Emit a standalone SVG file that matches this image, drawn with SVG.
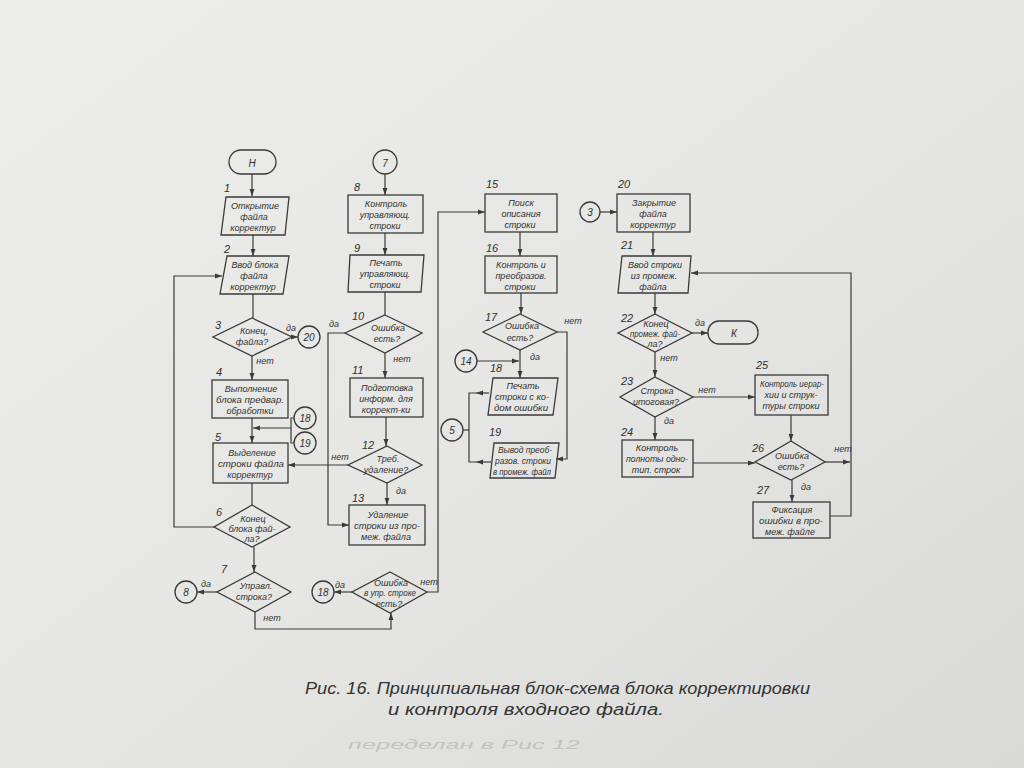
<svg xmlns="http://www.w3.org/2000/svg" width="1024" height="768" viewBox="0 0 1024 768">
<defs>
<linearGradient id="bg" x1="0" y1="0" x2="1" y2="1">
<stop offset="0" stop-color="#ededeb"/>
<stop offset="0.5" stop-color="#e6e6e4"/>
<stop offset="1" stop-color="#d9d9d7"/>
</linearGradient>
<marker id="a" viewBox="0 0 10 10" refX="10" refY="5" markerWidth="7" markerHeight="7" orient="auto" markerUnits="userSpaceOnUse">
<path d="M0,1.5 L10,5 L0,8.5 z" fill="#3a3a3a"/>
</marker>
<style>
.ln{stroke:#3a3a3a;stroke-width:1.2;fill:none}
.sh{stroke:#3a3a3a;stroke-width:1.3;fill:none}
.t{font-family:'Liberation Sans','DejaVu Sans',sans-serif;font-style:italic;font-size:9px;fill:#303030;text-anchor:middle}
.n{font-family:'Liberation Sans','DejaVu Sans',sans-serif;font-style:italic;font-size:11px;fill:#303030}
.c{font-family:'Liberation Sans','DejaVu Sans',sans-serif;font-style:italic;font-size:10px;fill:#303030;text-anchor:middle}
.cap{font-family:'Liberation Sans','DejaVu Sans',sans-serif;font-style:italic;font-size:16px;fill:#333333}
.pen{font-family:'Liberation Sans','DejaVu Sans',sans-serif;font-style:italic;font-size:13px;fill:#c3c3c3}
</style>
</defs>
<rect width="1024" height="768" fill="url(#bg)"/>

<g id="connectors">
<path class="ln" d="M252,174 V196" marker-end="url(#a)"/>
<path class="ln" d="M253,235 V256" marker-end="url(#a)"/>
<path class="ln" d="M253,294 V318"/>
<path class="ln" d="M292,337 H298" marker-end="url(#a)"/>
<path class="ln" d="M252,356 V380" marker-end="url(#a)"/>
<path class="ln" d="M252,418 V443" marker-end="url(#a)"/>
<path class="ln" d="M294,418 H291 V443 H294"/>
<path class="ln" d="M291,428 H253" marker-end="url(#a)"/>
<path class="ln" d="M252,483 V505"/>
<path class="ln" d="M214,527 H174 V276 H222" marker-end="url(#a)"/>
<path class="ln" d="M254,547 V572" marker-end="url(#a)"/>
<path class="ln" d="M217,592 H197" marker-end="url(#a)"/>
<path class="ln" d="M255,612 V629 H391 V613" marker-end="url(#a)"/>
<path class="ln" d="M352,592 H334" marker-end="url(#a)"/>
<path class="ln" d="M427,592 H438 V212 H485" marker-end="url(#a)"/>

<path class="ln" d="M385,174 V195" marker-end="url(#a)"/>
<path class="ln" d="M385,233 V255" marker-end="url(#a)"/>
<path class="ln" d="M385,292 V315"/>
<path class="ln" d="M345,333 H328 V525 H349" marker-end="url(#a)"/>
<path class="ln" d="M385,353 V378" marker-end="url(#a)"/>
<path class="ln" d="M386,417 V446" marker-end="url(#a)"/>
<path class="ln" d="M348,465 H288" marker-end="url(#a)"/>
<path class="ln" d="M387,483 V505" marker-end="url(#a)"/>

<path class="ln" d="M520,232 V256" marker-end="url(#a)"/>
<path class="ln" d="M521,293 V314" marker-end="url(#a)"/>
<path class="ln" d="M557,332 H567 V459 H556" marker-end="url(#a)"/>
<path class="ln" d="M477,361 H519" marker-end="url(#a)"/>
<path class="ln" d="M520,350 V378" marker-end="url(#a)"/>
<path class="ln" d="M489,393 H476" marker-end="url(#a)"/>
<path class="ln" d="M491,462 H476" marker-end="url(#a)"/>
<path class="ln" d="M476,393 H469 V462 H476"/>
<path class="ln" d="M463,430 H469"/>

<path class="ln" d="M600,212 H617" marker-end="url(#a)"/>
<path class="ln" d="M653,232 V256" marker-end="url(#a)"/>
<path class="ln" d="M655,293 V314" marker-end="url(#a)"/>
<path class="ln" d="M692,333 H708" marker-end="url(#a)"/>
<path class="ln" d="M655,352 V377" marker-end="url(#a)"/>
<path class="ln" d="M693,397 H755" marker-end="url(#a)"/>
<path class="ln" d="M655,417 V440" marker-end="url(#a)"/>
<path class="ln" d="M693,463 H755" marker-end="url(#a)"/>
<path class="ln" d="M791,415 V441" marker-end="url(#a)"/>
<path class="ln" d="M825,462 H850" marker-end="url(#a)"/>
<path class="ln" d="M792,480 V502" marker-end="url(#a)"/>
<path class="ln" d="M830,516 H851 V273 H691" marker-end="url(#a)"/>
</g>

<g id="start"><rect class="sh" x="229" y="150" width="47" height="24" rx="12"/><text class="c" x="252" y="167" font-size="13">Н</text></g>
<g id="b1"><text class="n" x="224" y="192">1</text><polygon class="sh" points="226,197 289,197 285,235 221,235"/>
<text class="t" x="255" y="209">Открытие</text><text class="t" x="254" y="220">файла</text><text class="t" x="253" y="231">корректур</text></g>
<g id="b2"><text class="n" x="224" y="253">2</text><polygon class="sh" points="227,256 289,256 283,294 220,294"/>
<text class="t" x="255" y="268">Ввод блока</text><text class="t" x="254" y="279">файла</text><text class="t" x="253" y="290">корректур</text></g>
<g id="b3"><text class="n" x="215" y="329">3</text><polygon class="sh" points="252,318 292,337 252,356 213,337"/>
<text class="t" x="254" y="334">Конец,</text><text class="t" x="252" y="345">файла?</text>
<text class="t" x="291" y="331">да</text><text class="t" x="265" y="364">нет</text></g>
<g id="c20a"><circle class="sh" cx="309" cy="337" r="11"/><text class="c" x="309" y="341">20</text></g>
<g id="b4"><text class="n" x="216" y="376">4</text><rect class="sh" x="212" y="380" width="76" height="38"/>
<text class="t" x="251" y="392">Выполнение</text><text class="t" x="250" y="403" textLength="68" lengthAdjust="spacingAndGlyphs">блока предвар.</text><text class="t" x="250" y="414">обработки</text></g>
<g id="c18a"><circle class="sh" cx="305" cy="418" r="11"/><text class="c" x="305" y="422">18</text></g>
<g id="c19a"><circle class="sh" cx="305" cy="443" r="11"/><text class="c" x="305" y="447">19</text></g>
<g id="b5"><text class="n" x="215" y="441">5</text><rect class="sh" x="213" y="443" width="75" height="40"/>
<text class="t" x="252" y="456">Выделение</text><text class="t" x="251" y="467" textLength="66" lengthAdjust="spacingAndGlyphs">строки файла</text><text class="t" x="250" y="478">корректур</text></g>
<g id="b6"><text class="n" x="216" y="516">6</text><polygon class="sh" points="252,505 290,527 252,547 214,527"/>
<text class="t" x="253" y="522">Конец</text><text class="t" x="252" y="532">блока фай-</text><text class="t" x="252" y="542">ла?</text></g>
<g id="b7"><text class="n" x="221" y="573">7</text><polygon class="sh" points="255,572 291,592 255,612 217,592"/>
<text class="t" x="256" y="589">Управл.</text><text class="t" x="254" y="600">строка?</text>
<text class="t" x="206" y="587">да</text><text class="t" x="272" y="621">нет</text></g>
<g id="c8"><circle class="sh" cx="186" cy="592" r="11"/><text class="c" x="186" y="596">8</text></g>
<g id="b14"><polygon class="sh" points="390,572 427,592 390,613 352,592"/>
<text class="t" x="391" y="586">Ошибка</text><text class="t" x="390" y="596" textLength="52" lengthAdjust="spacingAndGlyphs">в упр. строке</text><text class="t" x="389" y="607">есть?</text>
<text class="t" x="340" y="588">да</text><text class="t" x="429" y="585">нет</text></g>
<g id="c18b"><circle class="sh" cx="323" cy="592" r="11"/><text class="c" x="323" y="596">18</text></g>

<g id="c7"><circle class="sh" cx="385" cy="162" r="12"/><text class="c" x="385" y="167" font-size="12">7</text></g>
<g id="b8"><text class="n" x="354" y="191">8</text><rect class="sh" x="348" y="195" width="75" height="38"/>
<text class="t" x="386" y="207">Контроль</text><text class="t" x="385" y="218">управляющ.</text><text class="t" x="385" y="229">строки</text></g>
<g id="b9"><text class="n" x="354" y="252">9</text><polygon class="sh" points="350,255 424,255 421,292 348,292"/>
<text class="t" x="386" y="266">Печать</text><text class="t" x="385" y="277">управляющ.</text><text class="t" x="385" y="288">строки</text></g>
<g id="b10"><text class="n" x="352" y="320">10</text><polygon class="sh" points="385,315 422,333 385,353 345,333"/>
<text class="t" x="388" y="331">Ошибка</text><text class="t" x="387" y="342">есть?</text>
<text class="t" x="334" y="327">да</text><text class="t" x="402" y="362">нет</text></g>
<g id="b11"><text class="n" x="352" y="374">11</text><rect class="sh" x="350" y="378" width="73" height="39"/>
<text class="t" x="387" y="391">Подготовка</text><text class="t" x="386" y="402">информ. для</text><text class="t" x="386" y="413">коррект-ки</text></g>
<g id="b12"><text class="n" x="362" y="449">12</text><polygon class="sh" points="387,446 422,465 387,483 348,465"/>
<text class="t" x="388" y="462">Треб.</text><text class="t" x="386" y="473">удаление?</text>
<text class="t" x="340" y="460">нет</text><text class="t" x="401" y="494">да</text></g>
<g id="b13"><text class="n" x="352" y="502">13</text><rect class="sh" x="349" y="505" width="76" height="40"/>
<text class="t" x="388" y="518">Удаление</text><text class="t" x="387" y="529" textLength="66" lengthAdjust="spacingAndGlyphs">строки из про-</text><text class="t" x="386" y="540">меж. файла</text></g>

<g id="b15"><text class="n" x="486" y="188">15</text><rect class="sh" x="485" y="194" width="72" height="38"/>
<text class="t" x="521" y="206">Поиск</text><text class="t" x="521" y="217">описания</text><text class="t" x="520" y="228">строки</text></g>
<g id="b16"><text class="n" x="486" y="252">16</text><rect class="sh" x="485" y="256" width="72" height="37"/>
<text class="t" x="521" y="268">Контроль и</text><text class="t" x="521" y="279">преобразов.</text><text class="t" x="520" y="290">строки</text></g>
<g id="b17"><text class="n" x="485" y="321">17</text><polygon class="sh" points="520,314 557,332 520,350 483,332"/>
<text class="t" x="522" y="329">Ошибка</text><text class="t" x="520" y="341">есть?</text>
<text class="t" x="573" y="324">нет</text><text class="t" x="535" y="360">да</text></g>
<g id="c14"><circle class="sh" cx="466" cy="361" r="11"/><text class="c" x="466" y="365">14</text></g>
<g id="b18"><text class="n" x="490" y="372">18</text><polygon class="sh" points="493,378 558,378 553,415 488,415"/>
<text class="t" x="523" y="389">Печать</text><text class="t" x="522" y="400" textLength="54" lengthAdjust="spacingAndGlyphs">строки с ко-</text><text class="t" x="521" y="411" textLength="54" lengthAdjust="spacingAndGlyphs">дом ошибки</text></g>
<g id="c5"><circle class="sh" cx="452" cy="430" r="11"/><text class="c" x="452" y="434">5</text></g>
<g id="b19"><text class="n" x="489" y="436">19</text><polygon class="sh" points="494,443 559,443 555,478 490,478"/>
<text class="t" x="525" y="453" textLength="54" lengthAdjust="spacingAndGlyphs">Вывод преоб-</text><text class="t" x="523" y="464" textLength="56" lengthAdjust="spacingAndGlyphs">разов. строки</text><text class="t" x="522" y="475" textLength="58" lengthAdjust="spacingAndGlyphs">в промеж. файл</text></g>

<g id="c3"><circle class="sh" cx="590" cy="212" r="10"/><text class="c" x="590" y="216">3</text></g>
<g id="b20"><text class="n" x="618" y="188">20</text><rect class="sh" x="617" y="194" width="73" height="38"/>
<text class="t" x="654" y="206">Закрытие</text><text class="t" x="653" y="217">файла</text><text class="t" x="653" y="228">корректур</text></g>
<g id="b21"><text class="n" x="621" y="249">21</text><polygon class="sh" points="622,256 691,256 688,293 618,293"/>
<text class="t" x="655" y="268">Ввод строки</text><text class="t" x="654" y="279">из промеж.</text><text class="t" x="653" y="290">файла</text></g>
<g id="b22"><text class="n" x="621" y="322">22</text><polygon class="sh" points="655,314 692,333 655,352 618,333"/>
<text class="t" x="656" y="327">Конец</text><text class="t" x="655" y="337" textLength="50" lengthAdjust="spacingAndGlyphs">промеж. фай-</text><text class="t" x="655" y="347">ла?</text>
<text class="t" x="700" y="326">да</text><text class="t" x="669" y="361">нет</text></g>
<g id="end"><rect class="sh" x="708" y="321" width="50" height="23" rx="11"/><text class="c" x="734" y="337" font-size="12">К</text></g>
<g id="b23"><text class="n" x="621" y="385">23</text><polygon class="sh" points="655,377 693,397 655,417 620,397"/>
<text class="t" x="657" y="394">Строка</text><text class="t" x="656" y="405">итоговая?</text>
<text class="t" x="707" y="393">нет</text><text class="t" x="669" y="424">да</text></g>
<g id="b24"><text class="n" x="621" y="436">24</text><rect class="sh" x="622" y="440" width="71" height="37"/>
<text class="t" x="657" y="451">Контроль</text><text class="t" x="657" y="462" textLength="62" lengthAdjust="spacingAndGlyphs">полноты одно-</text><text class="t" x="656" y="473">тип. строк</text></g>
<g id="b25"><text class="n" x="756" y="369">25</text><rect class="sh" x="755" y="375" width="73" height="40"/>
<text class="t" x="792" y="387" textLength="64" lengthAdjust="spacingAndGlyphs">Контроль иерар-</text><text class="t" x="791" y="398">хии и струк-</text><text class="t" x="791" y="409">туры строки</text></g>
<g id="b26"><text class="n" x="752" y="452">26</text><polygon class="sh" points="791,441 825,462 791,480 755,462"/>
<text class="t" x="792" y="459">Ошибка</text><text class="t" x="791" y="470">есть?</text>
<text class="t" x="843" y="452">нет</text><text class="t" x="806" y="490">да</text></g>
<g id="b27"><text class="n" x="757" y="494">27</text><rect class="sh" x="753" y="502" width="77" height="36"/>
<text class="t" x="792" y="513">Фиксация</text><text class="t" x="791" y="524" textLength="64" lengthAdjust="spacingAndGlyphs">ошибки в про-</text><text class="t" x="790" y="535">меж. файле</text></g>

<g id="caption">
<text class="cap" x="305" y="694" textLength="505" lengthAdjust="spacingAndGlyphs">Рис. 16. Принципиальная блок-схема блока корректировки</text>
<text class="cap" x="388" y="715" textLength="276" lengthAdjust="spacingAndGlyphs">и контроля входного файла.</text>
<text class="pen" x="348" y="749" textLength="232" lengthAdjust="spacingAndGlyphs">переделан в Рис 12</text>
</g>
</svg>
